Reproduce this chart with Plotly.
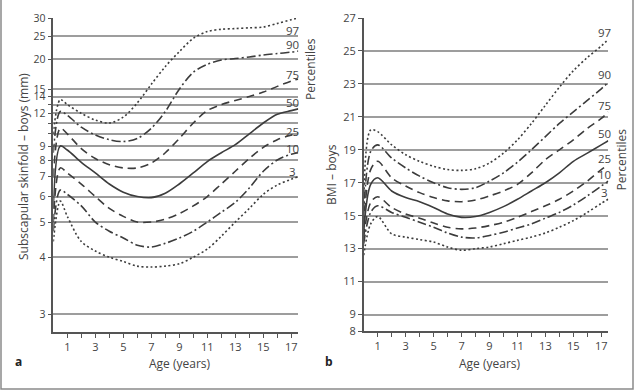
import numpy as np
import plotly.graph_objects as go

# ---------------- data ----------------
ages = [0, 0.5, 1, 2, 3, 4, 5, 6, 7, 8, 9, 10, 11, 12, 13, 14, 15, 16, 17, 17.5]
percentiles = ["97", "90", "75", "50", "25", "10", "3"]

# Panel a: subscapular skinfold (mm)
skin_p97 = [10.0, 13.6, 13.0, 12.0, 11.3, 11.0, 11.6, 13.2, 15.7, 18.6, 21.5, 24.5, 26.2, 26.8, 27.0, 27.2, 27.4, 28.4, 29.5, 30.0]
skin_p90 = [8.5, 12.2, 11.8, 10.6, 9.9, 9.5, 9.35, 9.6, 10.5, 12.2, 15.0, 17.6, 19.0, 19.8, 20.1, 20.4, 20.8, 21.1, 21.4, 21.6]
skin_p75 = [7.0, 10.5, 10.0, 8.8, 8.1, 7.7, 7.5, 7.5, 7.8, 8.5, 9.6, 11.0, 12.3, 13.0, 13.5, 14.0, 14.6, 15.4, 16.2, 16.5]
skin_p50 = [5.5, 9.0, 8.7, 7.85, 7.2, 6.6, 6.2, 6.0, 5.95, 6.15, 6.6, 7.2, 7.9, 8.5, 9.1, 10.0, 11.0, 11.9, 12.3, 12.5]
skin_p25 = [5.0, 7.5, 7.2, 6.6, 6.0, 5.5, 5.2, 5.0, 5.0, 5.1, 5.3, 5.6, 6.0, 6.6, 7.3, 8.1, 8.9, 9.5, 9.9, 10.1]
skin_p10 = [4.7, 6.3, 6.1, 5.6, 5.0, 4.7, 4.5, 4.3, 4.25, 4.35, 4.5, 4.7, 5.0, 5.35, 5.75, 6.4, 7.3, 8.0, 8.4, 8.5]
skin_p3 = [4.4, 5.8, 5.2, 4.4, 4.15, 4.0, 3.9, 3.8, 3.78, 3.8, 3.85, 4.0, 4.2, 4.55, 5.0, 5.5, 6.1, 6.55, 6.85, 7.0]

# Panel b: BMI
bmi_p97 = [15.5, 20.2, 20.1, 19.3, 18.7, 18.3, 18.0, 17.8, 17.75, 17.85, 18.2, 18.8, 19.6, 20.6, 21.7, 22.8, 23.8, 24.6, 25.3, 25.7]
bmi_p90 = [15.0, 18.9, 19.3, 18.5, 17.9, 17.4, 17.0, 16.7, 16.6, 16.7, 17.1, 17.6, 18.25, 19.0, 19.8, 20.6, 21.3, 22.0, 22.7, 23.1]
bmi_p75 = [14.5, 17.8, 18.3, 17.3, 16.8, 16.4, 16.1, 15.9, 15.85, 15.95, 16.2, 16.5, 16.9, 17.6, 18.4, 19.0, 19.6, 20.3, 20.9, 21.3]
bmi_p50 = [14.0, 16.9, 17.3, 16.5, 16.1, 15.85, 15.5, 15.1, 14.9, 14.95, 15.2, 15.55, 16.0, 16.5, 17.0, 17.6, 18.3, 18.8, 19.3, 19.55]
bmi_p25 = [13.7, 15.8, 16.15, 15.5, 15.1, 14.85, 14.55, 14.3, 14.2, 14.25, 14.4, 14.6, 14.9, 15.25, 15.6, 16.0, 16.5, 17.1, 17.8, 18.1]
bmi_p10 = [13.3, 15.2, 15.6, 15.2, 14.9, 14.6, 14.3, 13.95, 13.7, 13.65, 13.8, 14.0, 14.25, 14.5, 14.85, 15.2, 15.65, 16.2, 16.8, 17.1]
bmi_p3 = [12.6, 14.5, 14.95, 13.9, 13.7, 13.55, 13.4, 13.1, 12.9, 13.0, 13.1, 13.3, 13.5, 13.7, 13.95, 14.3, 14.7, 15.2, 15.75, 16.0]

skin_grid = [3, 4, 5, 6, 7, 8, 9, 10, 11, 12, 13, 14, 15, 20, 25, 30]
skin_labeled = [3, 4, 5, 6, 7, 8, 9, 12, 14, 15, 20, 25, 30]
bmi_ticks = [8, 9, 11, 13, 15, 17, 19, 21, 23, 25, 27]
x_ticks = list(range(1, 18))
x_labeled = [1, 3, 5, 7, 9, 11, 13, 15, 17]

# label positions of percentile names (data units)
skin_label_y = [26.5, 23.1, 17.2, 13.2, 10.25, 8.8, 7.26]
bmi_label_y = [26.15, 23.55, 21.66, 19.96, 18.5, 17.53, 16.38]

skin_series = [skin_p97, skin_p90, skin_p75, skin_p50, skin_p25, skin_p10, skin_p3]
bmi_series = [bmi_p97, bmi_p90, bmi_p75, bmi_p50, bmi_p25, bmi_p10, bmi_p3]

# ---------------- style ----------------
W, H = 636, 391
FONT = "Open Sans"
LINE_C = "#3c3c3c"
GRID_C = "#9d9d9d"
AXIS_C = "#555555"
TEXT_C = "#444444"
dashes = ["2px,2.5px", "9px,3px,2px,3px", "8px,5px", "solid", "8px,5px", "9px,3px,2px,3px", "2px,2.5px"]

SHIFT = 1.8


def tf(v):
    return np.log(np.asarray(v, dtype=float) - SHIFT)


def px(x):
    return x / W


def py(y):
    return 1 - y / H


fig = go.Figure()

for vals, d in zip(skin_series, dashes):
    fig.add_trace(go.Scatter(x=ages, y=tf(vals), mode="lines", xaxis="x", yaxis="y",
                             line=dict(color=LINE_C, width=1.6, dash=d, shape="spline", smoothing=0.9),
                             hoverinfo="skip", showlegend=False))
for vals, d in zip(bmi_series, dashes):
    fig.add_trace(go.Scatter(x=ages, y=vals, mode="lines", xaxis="x2", yaxis="y2",
                             line=dict(color=LINE_C, width=1.6, dash=d, shape="spline", smoothing=0.9),
                             hoverinfo="skip", showlegend=False))

# axes ranges: left y axis spans pixel 18..332 with 3 at 314
top_t = float(tf(30))
scale = (314 - 18) / (top_t - float(tf(3)))
bot_t = float(tf(3)) - (332 - 314) / scale

common_x = dict(range=[0, 17.5], showgrid=False, zeroline=False, showline=True, automargin=False,
                linecolor=AXIS_C, linewidth=1.5, ticks="outside", ticklen=4, tickcolor=AXIS_C,
                tickwidth=1, tickvals=x_ticks,
                ticktext=[str(t) if t in x_labeled else "" for t in x_ticks],
                tickfont=dict(family=FONT, size=11, color=TEXT_C))

fig.update_layout(
    width=W, height=H, autosize=False, margin=dict(l=0, r=0, t=0, b=0, pad=0),
    paper_bgcolor="white", plot_bgcolor="white",
    font=dict(family=FONT, color=TEXT_C),
    xaxis=dict(domain=[px(53.3), px(298.3)], anchor="y", **common_x),
    xaxis2=dict(domain=[px(363.7), px(608.3)], anchor="y2", **common_x),
    yaxis=dict(domain=[py(332), py(18)], anchor="x", range=[bot_t, top_t], automargin=False,
               tickvals=list(tf(skin_grid)),
               ticktext=[str(v) if v in skin_labeled else "" for v in skin_grid],
               showgrid=True, gridcolor=GRID_C, gridwidth=1.5, zeroline=False,
               showline=True, linecolor=AXIS_C, linewidth=1.5,
               ticks="outside", ticklen=4, tickcolor=AXIS_C,
               tickfont=dict(family=FONT, size=10.5, color=TEXT_C)),
    yaxis2=dict(domain=[py(331), py(18)], anchor="x2", range=[8, 27], automargin=False,
                tickvals=bmi_ticks, ticktext=[str(v) for v in bmi_ticks],
                showgrid=True, gridcolor=GRID_C, gridwidth=1.5, zeroline=False,
                showline=True, linecolor=AXIS_C, linewidth=1.5,
                ticks="outside", ticklen=4, tickcolor=AXIS_C,
                tickfont=dict(family=FONT, size=11, color=TEXT_C)),
)

ann = []
for lab, yv in zip(percentiles, skin_label_y):
    ann.append(dict(x=17.05, y=float(tf(yv)), xref="x", yref="y", text=lab, showarrow=False,
                    xanchor="center", yanchor="middle", font=dict(family=FONT, size=11.5, color=TEXT_C)))
for lab, yv in zip(percentiles, bmi_label_y):
    ann.append(dict(x=17.2, y=yv, xref="x2", yref="y2", text=lab, showarrow=False,
                    xanchor="center", yanchor="middle", font=dict(family=FONT, size=11.5, color=TEXT_C)))

txt = [
    ("Percentiles", 310, 69, -90, False),
    ("Percentiles", 621.5, 160, -90, False),
    ("Subscapular skinfold – boys (mm)", 23, 167, -90, False),
    ("BMI – boys", 331, 175, -90, False),
    ("Age (years)", 180, 363, 0, False),
    ("Age (years)", 490, 363, 0, False),
    ("a", 18, 361, 0, True),
    ("b", 329, 361, 0, True),
]
for t, x, y, ang, bold in txt:
    ann.append(dict(x=px(x), y=py(y), xref="paper", yref="paper",
                    text=f"<b>{t}</b>" if bold else t, showarrow=False, textangle=ang,
                    xanchor="center", yanchor="middle",
                    font=dict(family=FONT, size=12, color="#222" if bold else TEXT_C)))
fig.update_layout(annotations=ann)

# outer frame
fig.add_shape(type="rect", xref="paper", yref="paper",
              x0=px(1), x1=px(633), y0=py(389), y1=py(-5),
              line=dict(color="#8a8a8a", width=1.5), fillcolor="rgba(0,0,0,0)", layer="above")

fig.write_html("out.html", config={"responsive": False},
               post_script="document.body.style.margin='0';document.body.style.padding='0';document.body.style.overflow='hidden';")
